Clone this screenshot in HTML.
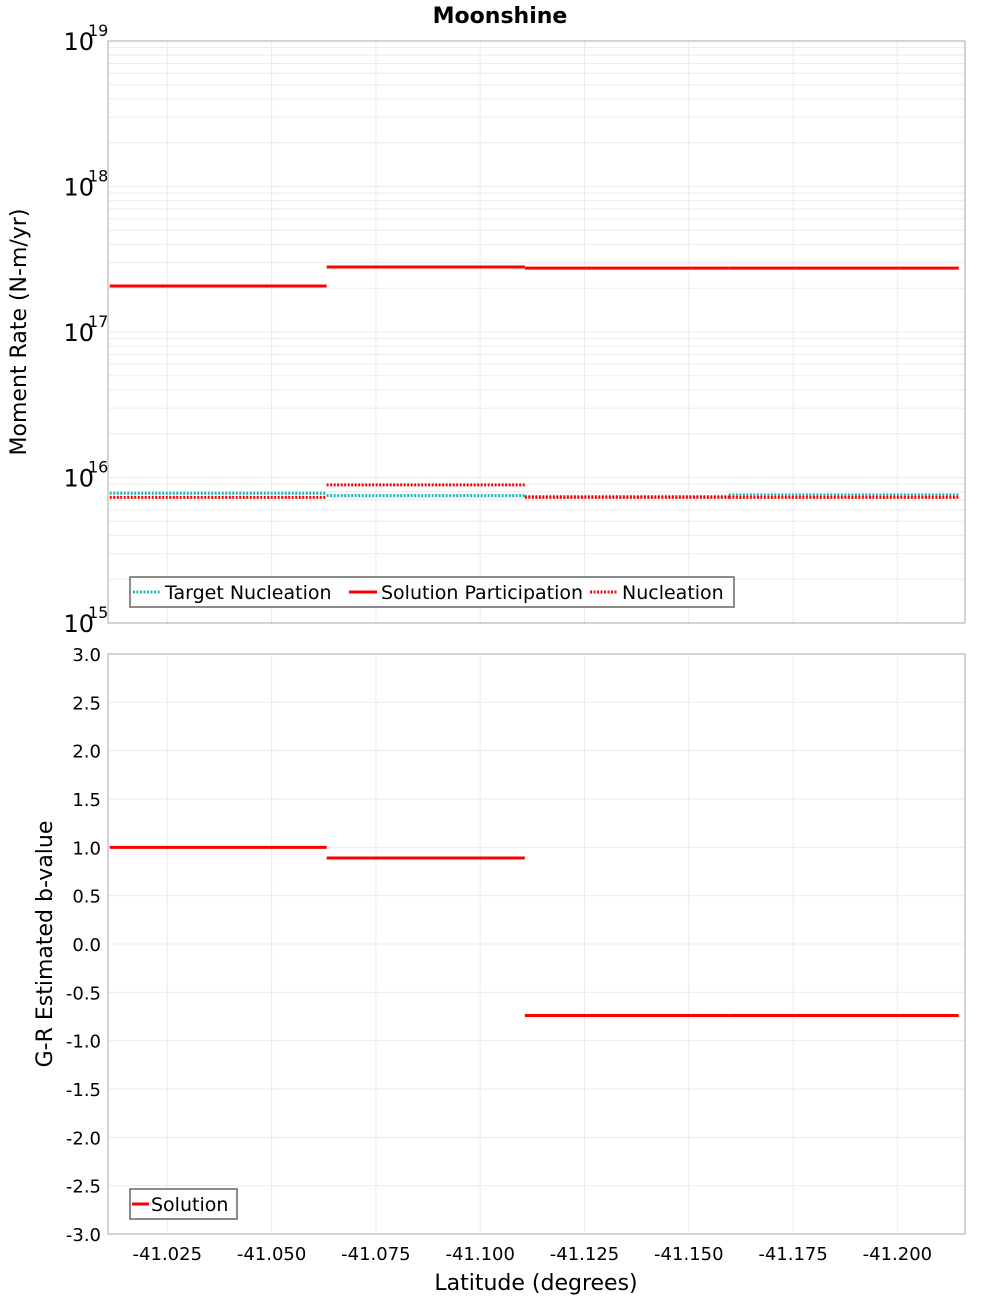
<!DOCTYPE html>
<html><head><meta charset="utf-8"><style>
body{margin:0;background:#fff;width:1000px;height:1300px;overflow:hidden}
text{font-family:"DejaVu Sans","Liberation Sans",sans-serif;fill:#000}
</style></head><body>
<svg id="c" width="1000" height="1300" xmlns="http://www.w3.org/2000/svg">
<text x="500" y="23" text-anchor="middle" font-size="22" font-weight="bold">Moonshine</text>
<g id="topPanel"></g>
<g id="botPanel"></g>
</svg>
<script>
// data
const segStarts = [-41.0112, -41.0632, -41.1107, -41.1596];
const segEnds   = [-41.0632, -41.1107, -41.1596, -41.2147];
const targetNucleation = [7.8e15, 7.5e15, 7.4e15, 7.6e15];
const solutionParticipation = [2.07e17, 2.8e17, 2.75e17, 2.75e17];
const nucleation = [7.3e15, 8.9e15, 7.3e15, 7.3e15];
const bValues = [1.0, 0.89, -0.74, -0.74];
const xTicks = [-41.025, -41.05, -41.075, -41.1, -41.125, -41.15, -41.175, -41.2];
const xTickLabels = ["-41.025","-41.050","-41.075","-41.100","-41.125","-41.150","-41.175","-41.200"];
const logTicks = [15, 16, 17, 18, 19];
const bTicks = [-3,-2.5,-2,-1.5,-1,-0.5,0,0.5,1,1.5,2,2.5,3];

const NS="http://www.w3.org/2000/svg";
const L=108,R=965;
const xs = v => 167.3 + (v - (-41.025)) / (-0.025) * 104.3;
const T1=41,B1=623, T2=654,B2=1234;
const yLog = v => B1 - (Math.log10(v) - 15) / 4 * (B1 - T1);
const yB = v => B2 - (v + 3) / 6 * (B2 - T2);
function mk(p,tag,a,txt){const e=document.createElementNS(NS,tag);for(const k in a)e.setAttribute(k,a[k]);if(txt!==undefined)e.textContent=txt;p.appendChild(e);return e;}
const topG=document.getElementById('topPanel'), botG=document.getElementById('botPanel');

for(let d=15; d<19; d++){
  for(let m=1;m<10;m++){
    const y=yLog(m*Math.pow(10,d));
    const g=mk(topG,'line',{x1:L,x2:R,y1:y,y2:y,stroke:'#ebebeb','stroke-width':1});
    
    
  }
}
for(const t of xTicks){
  for(const [p,a,b] of [[topG,T1,B1],[botG,T2,B2]]){
    const g=mk(p,'line',{x1:xs(t),x2:xs(t),y1:a,y2:b,stroke:'#ebebeb','stroke-width':1});
    
    
  }
}
for(const t of bTicks){
  const g=mk(botG,'line',{x1:L,x2:R,y1:yB(t),y2:yB(t),stroke:'#ebebeb','stroke-width':1});
  
  
}
let f=mk(topG,'rect',{x:L,y:T1,width:R-L,height:B1-T1,fill:'none',stroke:'#aaa','stroke-width':1});


f=mk(botG,'rect',{x:L,y:T2,width:R-L,height:B2-T2,fill:'none',stroke:'#aaa','stroke-width':1});



for(const d of logTicks){
  const y=yLog(Math.pow(10,d));
  const t=mk(topG,'text',{x:94,y:y+9,'text-anchor':'end','font-size':24},'10');
  
  
  const s=mk(topG,'text',{x:88,y:y-5,'font-size':16},String(d));
  
  
}
for(const v of bTicks){
  const t=mk(botG,'text',{x:101,y:yB(v)+7,'text-anchor':'end','font-size':18},v.toFixed(1));
  
  
}
xTicks.forEach((v,i)=>{
  const t=mk(botG,'text',{x:xs(v),y:1260,'text-anchor':'middle','font-size':18},xTickLabels[i]);
  
  
});
let a=mk(topG,'text',{x:0,y:0,'text-anchor':'middle','font-size':22,transform:'translate(26,332) rotate(-90)'},'Moment Rate (N-m/yr)');


a=mk(botG,'text',{x:0,y:0,'text-anchor':'middle','font-size':22,transform:'translate(52,944) rotate(-90)'},'G-R Estimated b-value');


a=mk(botG,'text',{x:536,y:1290,'text-anchor':'middle','font-size':22},'Latitude (degrees)');



function seg(p,vals,yf,color,dash,name){
  vals.forEach((v,i)=>{
    const l=mk(p,'line',{x1:xs(segStarts[i]),x2:xs(segEnds[i]),y1:yf(v),y2:yf(v),stroke:color,'stroke-width':3});
    if(dash) l.setAttribute('stroke-dasharray',dash);
    
    
  });
}
seg(topG,targetNucleation,yLog,'#1fb5b5','2,1.5','target-nucleation-segment');
seg(topG,nucleation,yLog,'#ff0000','2,1.5','nucleation-segment');
seg(topG,solutionParticipation,yLog,'#ff0000',null,'solution-participation-segment');
seg(botG,bValues,yB,'#ff0000',null,'solution-segment');

let lg=mk(topG,'g',{});


mk(lg,'rect',{x:130,y:577,width:604,height:30,fill:'#fff',stroke:'#666','stroke-width':1.5});
const items=[['Target Nucleation','#1fb5b5','2,1.5',133],['Solution Participation','#ff0000',null,349],['Nucleation','#ff0000','2,1.5',590]];
for(const [n,c,d,x] of items){
  const e=mk(lg,'line',{x1:x,x2:x+28,y1:592,y2:592,stroke:c,'stroke-width':3});
  if(d)e.setAttribute('stroke-dasharray',d);
  
  
  const t=mk(lg,'text',{x:x+32,y:599,'font-size':19},n);
  
  
}
lg=mk(botG,'g',{});


mk(lg,'rect',{x:130,y:1189,width:107,height:30,fill:'#fff',stroke:'#666','stroke-width':1.5});
let e=mk(lg,'line',{x1:132,x2:149,y1:1204,y2:1204,stroke:'#ff0000','stroke-width':3});


e=mk(lg,'text',{x:151,y:1211,'font-size':19},'Solution');


</script>
</body></html>
